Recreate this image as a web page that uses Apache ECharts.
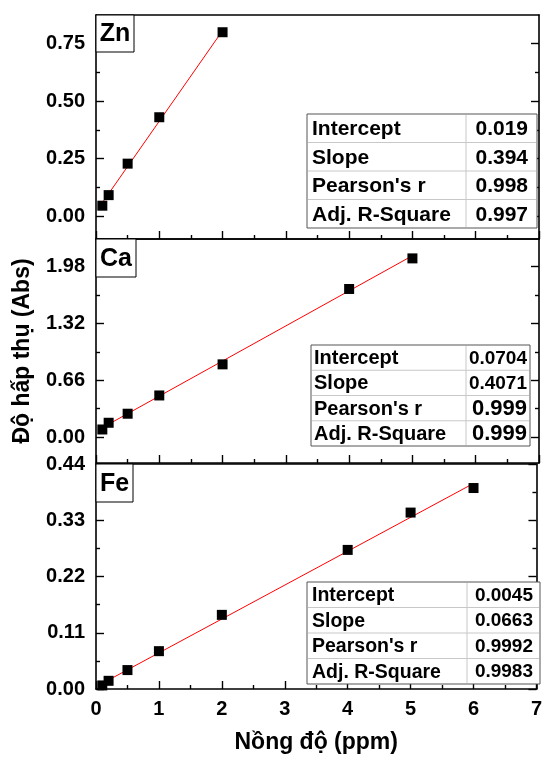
<!DOCTYPE html>
<html>
<head>
<meta charset="utf-8">
<script src="https://cdn.jsdelivr.net/npm/echarts@6/dist/echarts.min.js"></script>
<style>
  html, body { margin: 0; padding: 0; background: #fff; }
  #chart { width: 545px; height: 763px; }
</style>
</head>
<body>
<div id="chart"></div>
<script>
// calibration data
var znX = [0.1, 0.2, 0.5, 1, 2];
var znY = [0.045, 0.091, 0.228, 0.43, 0.80];
var caX = [0.1, 0.2, 0.5, 1, 2, 4, 5];
var caY = [0.089, 0.167, 0.272, 0.484, 0.845, 1.72, 2.075];
var feX = [0.1, 0.2, 0.5, 1, 2, 4, 5, 6];
var feY = [0.007, 0.016, 0.037, 0.074, 0.145, 0.272, 0.345, 0.393];

// fitted lines (end points)
var znFit = [[0.1, 0.058], [2, 0.807]];
var caFit = [[0.1, 0.11], [5, 2.106]];
var feFit = [[0.1, 0.011], [6, 0.402]];

// y ticks
var znTicks = [0, 0.25, 0.5, 0.75];
var znMinor = [0.125, 0.375, 0.625];
var caTicks = [0, 0.66, 1.32, 1.98];
var caMinor = [0.33, 0.99, 1.65];
var feTicks = [0, 0.11, 0.22, 0.33, 0.44];
var feMinor = [0.055, 0.165, 0.275, 0.385];

// fit statistics
var statNames = ['Intercept', 'Slope', "Pearson's r", 'Adj. R-Square'];
var znStats = ['0.019', '0.394', '0.998', '0.997'];
var caStats = ['0.0704', '0.4071', '0.999', '0.999'];
var feStats = ['0.0045', '0.0663', '0.9992', '0.9983'];

var FONT = '"Liberation Sans", Arial, sans-serif';

var panels = [
  { label: 'Zn', x: znX, y: znY, fit: znFit, min: -0.1, max: 0.875, ticks: znTicks, minor: znMinor,
    top: 15, height: 224, box: [96, 15, 38, 37],
    table: { left: 307, top: 114, width: 230, col: 466, rowH: 28.5, padL: 5, padR: 9, fs: 21, vfs: [21, 21, 21, 21] },
    stats: znStats },
  { label: 'Ca', x: caX, y: caY, fit: caFit, min: -0.3, max: 2.3, ticks: caTicks, minor: caMinor,
    top: 239, height: 224, box: [96, 239, 40, 38],
    table: { left: 311, top: 345, width: 219, col: 466, rowH: 25.25, padL: 3, padR: 3, fs: 20, vfs: [19, 19, 22, 22] },
    stats: caStats },
  { label: 'Fe', x: feX, y: feY, fit: feFit, min: 0, max: 0.44, ticks: feTicks, minor: feMinor,
    top: 464, height: 225, box: [96, 464, 37, 38],
    table: { left: 307, top: 582, width: 233, col: 467, rowH: 25.5, padL: 5, padR: 7, fs: 19.5, vfs: [19, 19, 19, 19] },
    stats: feStats }
];

function pairs(xs, ys) {
  return xs.map(function (v, i) { return [v, ys[i]]; });
}

var grids = [], xAxes = [], yAxes = [], series = [], graphics = [];
var axisLineStyle = { color: '#000', width: 1.6 };

panels.forEach(function (p, i) {
  grids.push({ left: 96, right: 6, top: p.top, height: p.height });

  // bottom x axis
  xAxes.push({
    gridIndex: i, type: 'value', position: 'bottom', min: 0, max: 7, interval: 1,
    axisLine: { onZero: false, lineStyle: axisLineStyle },
    axisTick: { inside: true, length: 8, lineStyle: { color: '#000', width: 1.4 } },
    minorTick: { show: true, splitNumber: 2, length: 4, lineStyle: { color: '#000', width: 1.4 } },
    splitLine: { show: false },
    axisLabel: { show: i === 2, color: '#000', fontFamily: FONT, fontWeight: 'bold', fontSize: 20, margin: 10 },
    name: i === 2 ? 'Nồng độ (ppm)' : '',
    nameLocation: 'middle', nameGap: 42,
    nameTextStyle: { color: '#000', fontFamily: FONT, fontWeight: 'bold', fontSize: 23 }
  });
  // top x axis (frame only)
  xAxes.push({
    gridIndex: i, type: 'value', position: 'top', min: 0, max: 7,
    axisLine: { onZero: false, lineStyle: axisLineStyle },
    axisTick: { show: false }, axisLabel: { show: false }, splitLine: { show: false }
  });

  var base = yAxes.length;
  var common = { gridIndex: i, type: 'value', min: p.min, max: p.max, splitLine: { show: false } };
  // left major
  yAxes.push(Object.assign({}, common, {
    position: 'left',
    axisLine: { show: true, onZero: false, lineStyle: axisLineStyle },
    axisTick: { inside: true, length: 8, customValues: p.ticks, lineStyle: { color: '#000', width: 1.4 } },
    axisLabel: {
      customValues: p.ticks, color: '#000', fontFamily: FONT, fontWeight: 'bold', fontSize: 20, margin: 11,
      formatter: function (v) { return v.toFixed(2); }
    },
    name: i === 1 ? 'Độ hấp thụ (Abs)' : '',
    nameLocation: 'middle', nameGap: 62, nameRotate: 90,
    nameTextStyle: { color: '#000', fontFamily: FONT, fontWeight: 'bold', fontSize: 23 }
  }));
  // left minor
  yAxes.push(Object.assign({}, common, {
    position: 'left',
    axisLine: { show: false, onZero: false },
    axisTick: { inside: true, length: 4, customValues: p.minor, lineStyle: { color: '#000', width: 1.4 } },
    axisLabel: { show: false }
  }));
  // right major
  yAxes.push(Object.assign({}, common, {
    position: 'right',
    axisLine: { show: true, onZero: false, lineStyle: axisLineStyle },
    axisTick: { inside: true, length: 8, customValues: p.ticks, lineStyle: { color: '#000', width: 1.4 } },
    axisLabel: { show: false }
  }));
  // right minor
  yAxes.push(Object.assign({}, common, {
    position: 'right',
    axisLine: { show: false, onZero: false },
    axisTick: { inside: true, length: 4, customValues: p.minor, lineStyle: { color: '#000', width: 1.4 } },
    axisLabel: { show: false }
  }));

  series.push({
    type: 'line', xAxisIndex: i * 2, yAxisIndex: base, data: p.fit,
    showSymbol: false, silent: true, z: 2,
    lineStyle: { color: '#ff0000', width: 1 }
  });
  series.push({
    type: 'scatter', xAxisIndex: i * 2, yAxisIndex: base, data: pairs(p.x, p.y),
    symbol: 'rect', symbolSize: 10, z: 3,
    itemStyle: { color: '#000', opacity: 1 }
  });

  // element label box
  graphics.push({
    type: 'rect', z: 10,
    shape: { x: p.box[0], y: p.box[1], width: p.box[2], height: p.box[3] },
    style: { fill: '#fff', stroke: '#000', lineWidth: 1 }
  });
  graphics.push({
    type: 'text', z: 11,
    style: {
      text: p.label, x: p.box[0] + p.box[2] / 2, y: p.box[1] + p.box[3] / 2 + 1,
      font: 'bold 25px ' + FONT, fill: '#000',
      textAlign: 'center', textVerticalAlign: 'middle', align: 'center', verticalAlign: 'middle'
    }
  });

  // statistics table
  var t = p.table;
  var h = t.rowH * statNames.length;
  graphics.push({
    type: 'rect', z: 10,
    shape: { x: t.left, y: t.top, width: t.width, height: h },
    style: { fill: '#fff', stroke: '#555', lineWidth: 1 }
  });
  for (var r = 1; r < statNames.length; r++) {
    graphics.push({
      type: 'line', z: 11,
      shape: { x1: t.left + 1, y1: t.top + r * t.rowH, x2: t.left + t.width - 1, y2: t.top + r * t.rowH },
      style: { stroke: '#c8c8c8', lineWidth: 1 }
    });
  }
  graphics.push({
    type: 'line', z: 11,
    shape: { x1: t.col, y1: t.top + 1, x2: t.col, y2: t.top + h - 1 },
    style: { stroke: '#c8c8c8', lineWidth: 1 }
  });
  statNames.forEach(function (nm, r) {
    var cy = t.top + (r + 0.5) * t.rowH + 1;
    graphics.push({
      type: 'text', z: 12,
      style: {
        text: nm, x: t.left + t.padL, y: cy, font: 'bold ' + t.fs + 'px ' + FONT, fill: '#000',
        textAlign: 'left', textVerticalAlign: 'middle', align: 'left', verticalAlign: 'middle'
      }
    });
    graphics.push({
      type: 'text', z: 12,
      style: {
        text: p.stats[r], x: t.left + t.width - t.padR, y: cy, font: 'bold ' + t.vfs[r] + 'px ' + FONT, fill: '#000',
        textAlign: 'right', textVerticalAlign: 'middle', align: 'right', verticalAlign: 'middle'
      }
    });
  });
});

var chart = echarts.init(document.getElementById('chart'), null, { renderer: 'canvas' });
chart.setOption({
  animation: false,
  backgroundColor: '#fff',
  grid: grids,
  xAxis: xAxes,
  yAxis: yAxes,
  series: series,
  graphic: { elements: graphics }
});
</script>
</body>
</html>
